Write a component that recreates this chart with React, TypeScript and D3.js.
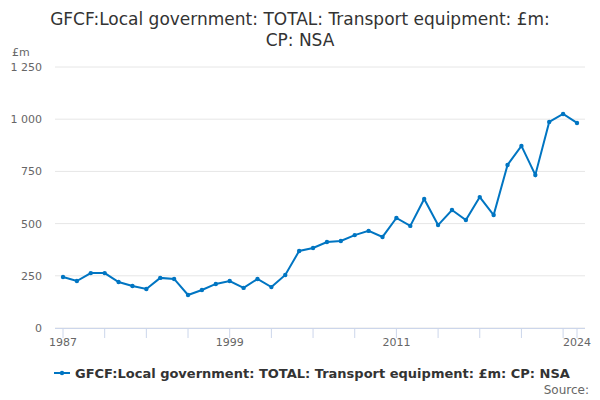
import React from "react";
import * as d3 from "d3";

const years = d3.range(1987, 2025);
const values = [244,225,263,263,220,201,187,240,235,158,182,211,225,192,235,196,254,369,383,412,417,445,465,436,527,489,618,493,565,517,627,541,781,872,733,987,1025,982];
const yTicks = [0,250,500,750,1000,1250];
const xLabels = [1987,1999,2011,2024];

export default function App() {
  const W = 600, H = 400;
  const x = d3.scaleLinear().domain([1987, 2024]).range([63, 577]);
  const y = d3.scaleLinear().domain([0, 1250]).range([328, 67]);
  const line = d3.line<number>().x((_, i) => x(years[i])).y(d => y(d));
  const fmt = (v: number) => v >= 1000 ? d3.format(",")(v).replace(",", " ") : String(v);
  const tickYears = [...d3.range(1987, 2024, 3), 2024];
  const color = "#0075c2";
  return (
    <svg width={W} height={H} style={{ position: "absolute", left: 0, top: 0, fontFamily: "DejaVu Sans, sans-serif" }}>
      <rect width={W} height={H} fill="#fff" />
      <text x={300} y={25} textAnchor="middle" fontSize={17} fill="#333">GFCF:Local government: TOTAL: Transport equipment: £m:</text>
      <text x={300} y={46} textAnchor="middle" fontSize={17} fill="#333">CP: NSA</text>
      <text x={12} y={56} fontSize={11} fill="#666">£m</text>
      {yTicks.map(t => (
        <g key={t}>
          <line x1={55} x2={585} y1={y(t)} y2={y(t)} stroke="#e6e6e6" />
          <text x={42} y={y(t) + 4} textAnchor="end" fontSize={11} fill="#666">{fmt(t)}</text>
        </g>
      ))}
      <line x1={55} x2={585} y1={328.5} y2={328.5} stroke="#ccd6eb" />
      {tickYears.map(t => (
        <line key={t} x1={x(t)} x2={x(t)} y1={328} y2={338} stroke="#ccd6eb" />
      ))}
      {xLabels.map(t => (
        <text key={t} x={x(t)} y={346} textAnchor="middle" fontSize={11} fill="#666">{t}</text>
      ))}
      <path d={line(values) || ""} fill="none" stroke={color} strokeWidth={2} />
      {values.map((v, i) => (
        <circle key={i} cx={x(years[i])} cy={y(v)} r={2.2} fill={color} />
      ))}
      <line x1={54} x2={70} y1={373} y2={373} stroke={color} strokeWidth={2} />
      <circle cx={62} cy={373} r={2.2} fill={color} />
      <text x={75} y={378} fontSize={13} fontWeight="bold" fill="#333">GFCF:Local government: TOTAL: Transport equipment: £m: CP: NSA</text>
      <text x={589} y={394} textAnchor="end" fontSize={12} fill="#666">Source:</text>
    </svg>
  );
}
